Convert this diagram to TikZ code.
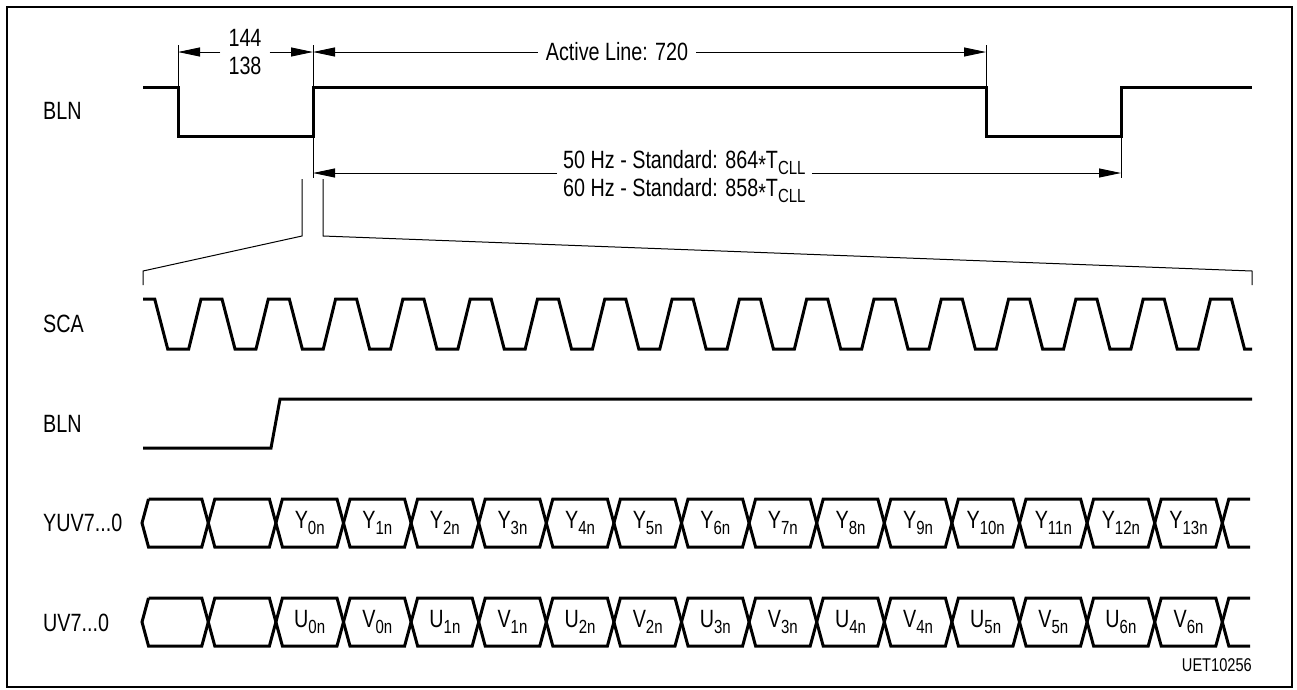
\documentclass[tikz,border=0pt]{standalone}
\usepackage{fontspec}
\setmainfont[FakeStretch=0.79]{Liberation Sans}
\usetikzlibrary{arrows.meta}
\newcommand{\mysub}[1]{\raisebox{-6pt}{\fontsize{19}{19}\selectfont #1}}
\newcommand{\myast}{\raisebox{-5pt}{*}}
\begin{document}
\begin{tikzpicture}[x=1pt,y=-1pt,
  wave/.style={line width=3pt, line join=miter},
  thinline/.style={line width=0.9pt},
  arr/.style={line width=0.9pt, -{Triangle[length=22pt,width=9pt]}},
  lbl/.style={font=\fontsize{25}{28}\selectfont, inner sep=0pt, anchor=west},
  dimtxt/.style={font=\fontsize{25}{28}\selectfont, inner xsep=8pt, inner ysep=0pt},
  cell/.style={font=\fontsize{25}{28}\selectfont, inner sep=0pt}]
\useasboundingbox (0,0) rectangle (1297,689);
% frame
\draw[line width=2.5pt] (7,7) rectangle (1292,687);

% labels
\node[lbl] (lblBLN1) at (43,111) {BLN};
\node[lbl] (lblSCA) at (43,324) {SCA};
\node[lbl] (lblBLN2) at (43,424) {BLN};
\node[lbl] (lblYUV) at (43,523) {YUV7...0};
\node[lbl] (lblUV) at (43,623) {UV7...0};
\node[font=\fontsize{18.5}{20}\selectfont, inner sep=0pt, anchor=east] (uet) at (1252,665) {UET10256};

% top BLN
\draw[wave] (143,87) -- (178,87) -- (178,136) -- (313,136) -- (313,87) -- (986,87) -- (986,136) -- (1121,136) -- (1121,87) -- (1252,87);

% extension lines
\coordinate (e1t) at (178,45); \coordinate (e1b) at (178,87);
\coordinate (e2t) at (313,45); \coordinate (e2b) at (313,178);
\coordinate (e3t) at (986,45); \coordinate (e3b) at (986,87);
\coordinate (e4t) at (1121,136); \coordinate (e4b) at (1121,178);
\draw[thinline] (e1t) -- (e1b);
\draw[thinline] (e2t) -- (e2b);
\draw[thinline] (e3t) -- (e3b);
\draw[thinline] (e4t) -- (e4b);

% dimension 144/138
\node[dimtxt, align=center] (t1) at (245,52) {144\\138};
\coordinate (a1L) at (178,52); \coordinate (a1R) at (313,52);
\draw[arr] (t1.west) -- (a1L);
\draw[arr] (t1.east) -- (a1R);

% active line
\node[dimtxt] (t2) at (617,52) {Active Line: 720};
\coordinate (a2L) at (313,52); \coordinate (a2R) at (986,52);
\draw[arr] (t2.west) -- (a2L);
\draw[arr] (t2.east) -- (a2R);

% 50/60 Hz
\node[dimtxt, align=left, anchor=north west, inner xsep=6pt] (t3) at (557,150)
  {50 Hz - Standard: 864\myast T\mysub{CLL}\\60 Hz - Standard: 858\myast T\mysub{CLL}};
\coordinate (a3L) at (313,173); \coordinate (a3R) at (1121,173);
\draw[arr] (t3.west |- a3L) -- (a3L);
\draw[arr] (t3.east |- a3R) -- (a3R);

% zoom lines
\coordinate (z1) at (302,179); \coordinate (z2) at (302,236); \coordinate (z3) at (143,271); \coordinate (z4) at (143,285);
\coordinate (z5) at (323,179); \coordinate (z6) at (323,236); \coordinate (z7) at (1252,271); \coordinate (z8) at (1252,285);
\draw[line width=1pt] (z1) -- (z2) -- (z3) -- (z4);
\draw[line width=1pt] (z5) -- (z6) -- (z7) -- (z8);

% SCA
\draw[wave] (143,299) -- (154.7,299) -- (167.7,349) -- (188.7,349)
  \foreach \k in {0,...,14}{ -- ({201+67.3*\k},299) -- ({222+67.3*\k},299) -- ({235+67.3*\k},349) -- ({256+67.3*\k},349) }
  -- (1210.5,299) -- (1231.5,299) -- (1244.5,349) -- (1252,349);

% lower BLN
\draw[wave] (143,448) -- (271,448) -- (280,399) -- (1252,399);

% YUV bus
\draw[wave] (148.5,499) \foreach \k in {0,2,...,14}{ -- ({208.3+67.6*\k-6.5},499) -- ({208.3+67.6*\k+6.5},547) -- ({208.3+67.6*(\k+1)-6.5},547) -- ({208.3+67.6*(\k+1)+6.5},499) } -- (1250,499);
\draw[wave] (148.5,499) -- (142,523) -- (148.5,547) \foreach \k in {0,2,...,14}{ -- ({208.3+67.6*\k-6.5},547) -- ({208.3+67.6*\k+6.5},499) -- ({208.3+67.6*(\k+1)-6.5},499) -- ({208.3+67.6*(\k+1)+6.5},547) } -- (1250,547);

% UV bus
\draw[wave] (148.5,598) \foreach \k in {0,2,...,14}{ -- ({208.3+67.6*\k-6.5},598) -- ({208.3+67.6*\k+6.5},646) -- ({208.3+67.6*(\k+1)-6.5},646) -- ({208.3+67.6*(\k+1)+6.5},598) } -- (1250,598);
\draw[wave] (148.5,598) -- (142,622) -- (148.5,646) \foreach \k in {0,2,...,14}{ -- ({208.3+67.6*\k-6.5},646) -- ({208.3+67.6*\k+6.5},598) -- ({208.3+67.6*(\k+1)-6.5},598) -- ({208.3+67.6*(\k+1)+6.5},646) } -- (1250,646);

% cell labels
\foreach \j in {0,...,13}{
  \node[cell] (y\j) at ({208.3+67.6*(\j+1.5)},523) {Y\mysub{\j n}};
  \pgfmathtruncatemacro{\idx}{floor(\j/2)}
  \pgfmathtruncatemacro{\odd}{mod(\j,2)}
  \node[cell] (uv\j) at ({208.3+67.6*(\j+1.5)},622) {\ifnum\odd=0 U\else V\fi\mysub{\idx n}};
}
\end{tikzpicture}
\end{document}
